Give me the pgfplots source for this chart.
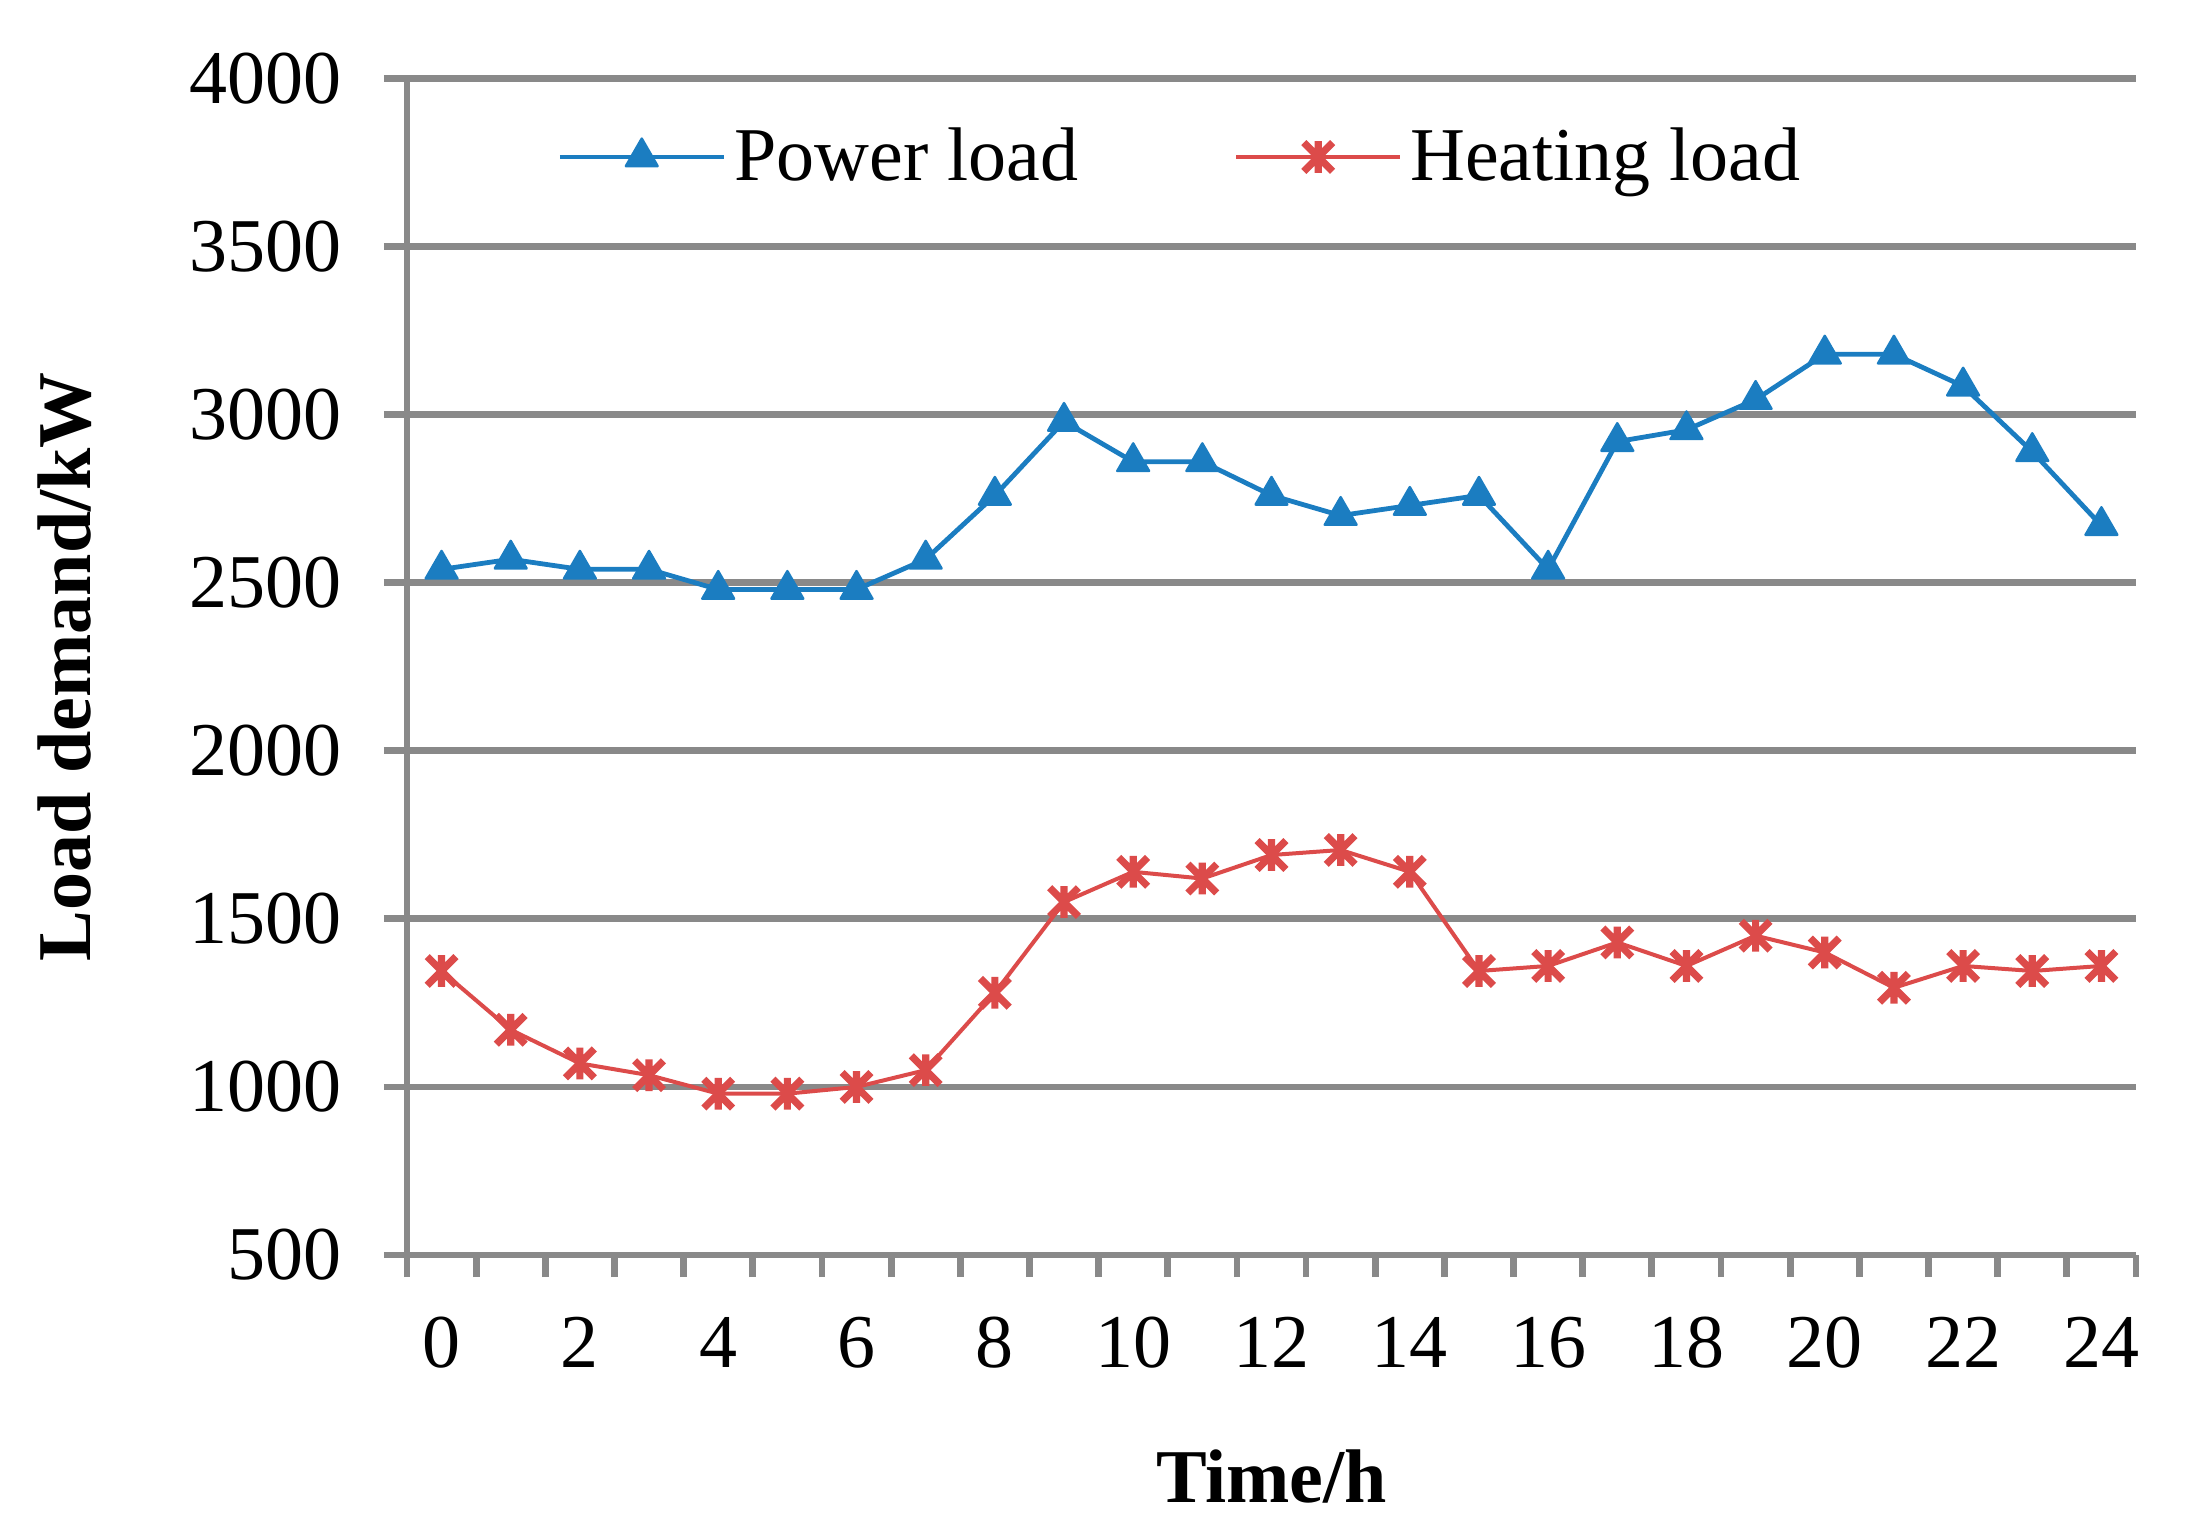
\documentclass[border=0pt]{standalone}
\usepackage{pgfplots}
\pgfplotsset{compat=1.18}
\usepackage{fontspec}
\setmainfont{Liberation Serif}

\definecolor{pblue}{HTML}{1B7DC1}
\definecolor{hred}{HTML}{DC4B4A}
\definecolor{gridgrey}{HTML}{898989}

% Excel style "star" marker: an x with a vertical bar
\pgfdeclareplotmark{xbar}{%
  \pgfpathmoveto{\pgfpoint{-\pgfplotmarksize}{-\pgfplotmarksize}}%
  \pgfpathlineto{\pgfpoint{\pgfplotmarksize}{\pgfplotmarksize}}%
  \pgfpathmoveto{\pgfpoint{-\pgfplotmarksize}{\pgfplotmarksize}}%
  \pgfpathlineto{\pgfpoint{\pgfplotmarksize}{-\pgfplotmarksize}}%
  \pgfpathmoveto{\pgfpoint{0pt}{-1.1\pgfplotmarksize}}%
  \pgfpathlineto{\pgfpoint{0pt}{1.1\pgfplotmarksize}}%
  \pgfusepathqstroke}

\newcommand{\chartfont}{\fontsize{19}{22}\selectfont}

\begin{document}
\begin{tikzpicture}
  \path[use as bounding box] (-101.75pt,-68.25pt) rectangle (446pt,313.75pt);
  \begin{axis}[
      at={(0,0)}, anchor=south west,
      scale only axis,
      width=432.25pt, height=294.1pt,
      xmin=-0.5, xmax=24.5,
      ymin=500, ymax=4000,
      axis x line*=bottom,
      axis y line*=left,
      axis line style={gridgrey, line width=1.7pt},
      xtick={0,2,...,24},
      minor xtick={-0.5,0.5,...,24.5},
      ytick={500,1000,...,4000},
      tick align=outside,
      major tick length=5.75pt,
      minor tick length=5.5pt,
      tick style={gridgrey, line width=1.7pt},
      every major x tick/.append style={draw opacity=0},
      ymajorgrids,
      grid style={gridgrey, line width=1.7pt},
      /pgf/number format/assume math mode=true,
      /pgf/number format/set thousands separator={},
      ticklabel style={font=\chartfont, inner sep=0pt},
      xticklabel style={anchor=north, yshift=-9.6pt},
      yticklabel style={anchor=east, xshift=-10.3pt},
      xlabel={\textbf{Time/h}},
      ylabel={\textbf{Load demand/kW}},
      label style={font=\chartfont, inner sep=0pt},
      xlabel style={at={(axis description cs:0.5,-0.21)}, anchor=base},
      ylabel style={at={(axis description cs:-0.1828,0.5)}, anchor=base, rotate=0},
      legend columns=2,
      legend style={at={(axis description cs:0.0865,0.9334)}, anchor=west,
        draw=none, fill=none, inner sep=0pt, font=\chartfont,
        /tikz/every even column/.append style={column sep=37pt}},
      legend cell align=left,
      legend image code/.code={%
        \draw[mark repeat=2, mark phase=2, #1]
          plot coordinates {(0pt,0pt) (20.5pt,0pt) (41pt,0pt)};},
    ]
    \addplot[pblue, line width=1.2pt, mark=triangle*, mark size=4.6pt,
      mark options={solid, fill=pblue, line width=0.6pt, line join=round}]
      coordinates {
        (0,2540) (1,2570) (2,2540) (3,2540) (4,2480) (5,2480) (6,2480)
        (7,2570) (8,2760) (9,2980) (10,2860) (11,2860) (12,2760)
        (13,2700) (14,2730) (15,2760) (16,2540) (17,2920) (18,2955)
        (19,3045) (20,3180) (21,3180) (22,3085) (23,2890) (24,2670)
      };
    \addlegendentry{Power load}
    \addplot[hred, line width=1pt, mark=xbar, mark size=3.6pt,
      mark options={solid, line width=1.8pt}]
      coordinates {
        (0,1345) (1,1170) (2,1070) (3,1035) (4,980) (5,980) (6,1000)
        (7,1050) (8,1280) (9,1550) (10,1640) (11,1620) (12,1690)
        (13,1705) (14,1640) (15,1345) (16,1360) (17,1430) (18,1360)
        (19,1450) (20,1400) (21,1295) (22,1360) (23,1345) (24,1360)
      };
    \addlegendentry{Heating load}
  \end{axis}
\end{tikzpicture}
\end{document}
